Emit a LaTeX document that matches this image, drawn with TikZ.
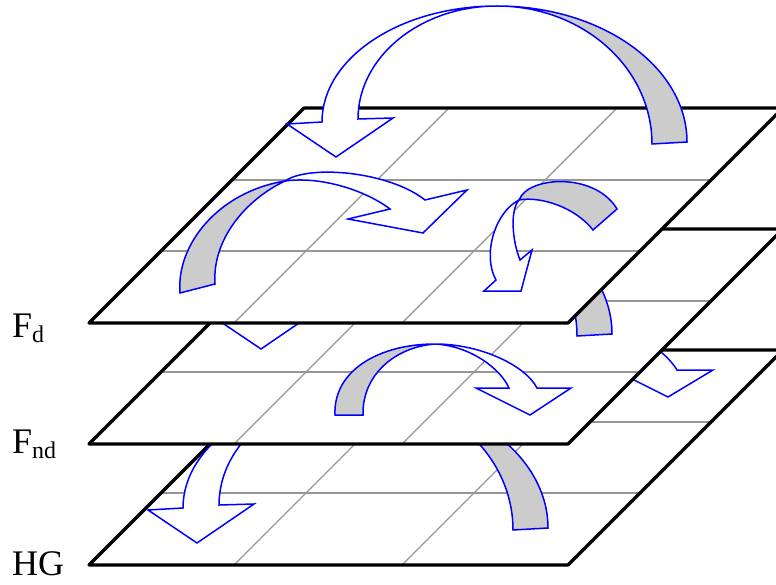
\documentclass[tikz,border=0pt]{standalone}
\usepackage{fontspec}
\setmainfont{Liberation Serif}
\definecolor{ribbongray}{RGB}{204,204,204}
\definecolor{gridgray}{RGB}{150,150,150}
\tikzset{
  layeredge/.style={draw=black, line width=3.2pt, line join=round},
  gridline/.style={draw=gridgray, line width=1.4pt},
  ribbonback/.style={draw=blue, fill=ribbongray, line width=1.5pt, line join=miter},
  ribbonfront/.style={draw=blue, fill=white, line width=1.5pt, line join=miter},
  layerlabel/.style={anchor=base west, inner sep=0pt, font=\fontsize{36}{40}\selectfont}
}
% one plane, bottom edge at y = 0 of the current scope
\newcommand{\LayerPlane}{%
  \fill[white] (89,0) -- (568,0) -- (783,-215) -- (304,-215) -- cycle;
  \draw[gridline] (161,-72) -- (640,-72);
  \draw[gridline] (232,-143) -- (711,-143);
  \draw[gridline] (234,0) -- (449,-215);
  \draw[gridline] (402,0) -- (617,-215);
  \draw[layeredge] (89,0) -- (568,0) -- (783,-215) -- (304,-215) -- cycle;
}
% the big ribbon arrow (drawn at its position on the top plane)
\newcommand{\BigArrowShape}{%
  \filldraw[ribbonback] (497,6) .. controls (602,6) and (687,67) .. (687,142)
     -- (652,144) .. controls (652,68) and (583,6) .. (497,6) -- cycle;
  \filldraw[ribbonfront] (497,6) .. controls (400,6) and (322,58) .. (322,122)
     -- (287,124) -- (336,157) -- (393,118) -- (358,119)
     .. controls (358,57) and (420,6) .. (497,6) -- cycle;
}
\begin{document}
\begin{tikzpicture}[x=1pt, y={(0pt,-1pt)}]
\clip (0,0) rectangle (776,585);

% ---- HG plane
\begin{scope}[shift={(0,565)}] \LayerPlane \end{scope}
% arrows lying on HG
\begin{scope}[shift={(-139,386)}] \BigArrowShape \end{scope}
\filldraw[ribbonfront] (600,325) .. controls (640,330) and (668,355) .. (677,370)
   -- (713,370) -- (668,397) -- (612,369) -- (638,370)
   .. controls (628,352) and (610,340) .. (585,335) -- cycle;

% ---- F_nd plane
\begin{scope}[shift={(0,444)}] \LayerPlane \end{scope}
% arrows lying on F_nd
\begin{scope}[shift={(-75,192)}] \BigArrowShape \end{scope}
\filldraw[ribbonback] (435,344) .. controls (380,344) and (333,370) .. (335,415)
   -- (363,415) .. controls (362,375) and (395,347) .. (435,344) -- cycle;
\filldraw[ribbonfront] (435,344) .. controls (480,344) and (525,365) .. (537,388)
   -- (571,388) -- (530,415) -- (476,388) -- (509,388)
   .. controls (500,368) and (470,346) .. (435,344) -- cycle;

% ---- F_d plane
\begin{scope}[shift={(0,323)}] \LayerPlane \end{scope}
% arrows lying on F_d
\BigArrowShape
\filldraw[ribbonback] (285,181) .. controls (218,192) and (176,245) .. (180,293)
   -- (215,284) .. controls (212,240) and (245,200) .. (285,181) -- cycle;
\filldraw[ribbonfront] (285,181) .. controls (310,164) and (390,172) .. (425,200)
   -- (467,190) -- (423,233) -- (348,219) -- (390,209)
   .. controls (365,190) and (320,176) .. (285,181) -- cycle;
\filldraw[ribbonback] (519,200) .. controls (528,176) and (595,172) .. (617,209)
   -- (593,230) .. controls (575,207) and (540,196) .. (519,200) -- cycle;
\filldraw[ribbonfront] (519,200) .. controls (495,212) and (482,255) .. (496,280)
   -- (484,291) -- (521,291) -- (532,250) -- (520,260)
   .. controls (512,240) and (510,210) .. (519,200) -- cycle;

% ---- labels
\node[layerlabel] (lblFd) at (12,337) {F\raisebox{-5pt}{\fontsize{24}{24}\selectfont d}};
\node[layerlabel] (lblFnd) at (12,453) {F\raisebox{-5pt}{\fontsize{24}{24}\selectfont nd}};
\node[layerlabel] (lblHG) at (12,575) {HG};
\end{tikzpicture}
\end{document}
